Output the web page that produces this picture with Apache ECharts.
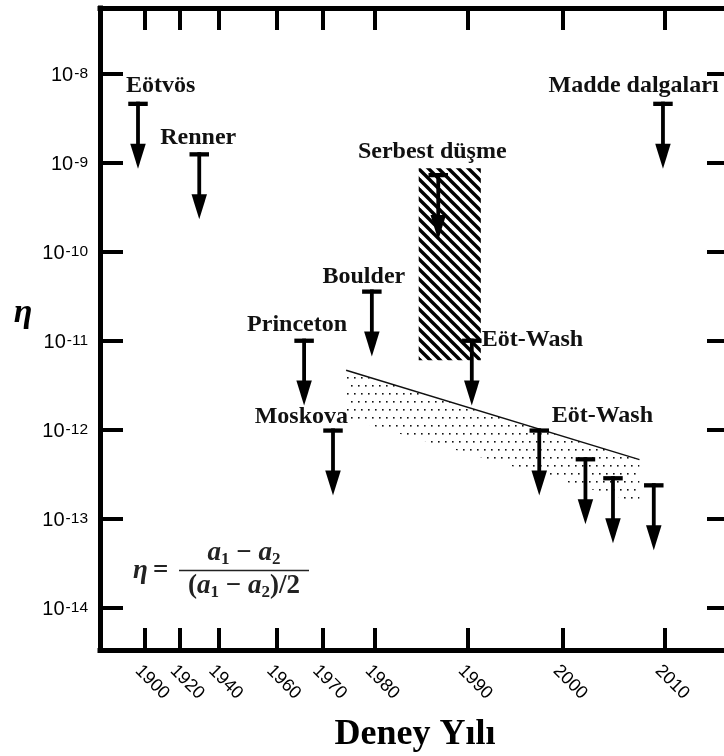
<!DOCTYPE html>
<html><head><meta charset="utf-8">
<script src="https://cdn.jsdelivr.net/npm/echarts@6/dist/echarts.min.js"></script>
<style>html,body{margin:0;padding:0;background:#fff}#c{width:724px;height:756px}</style>
</head><body><div id="c"></div>
<script>
// graduation of the (non-uniform) year axis: year labels and their stops in axis units
const axisYears = [1900, 1920, 1940, 1960, 1970, 1980, 1990, 2000, 2010];
const axisStops = [45, 80, 118.5, 176.5, 222.5, 275, 368, 463, 565];
const etaExponents = [-14, -13, -12, -11, -10, -9, -8];

// upper limits (arrows)
const arrowNames  = ['Eötvös', 'Renner', 'Princeton', 'Moskova', 'Boulder', 'Serbest düşme', 'Eöt-Wash', 'Eöt-Wash', '', '', '', 'Madde dalgaları'];
const arrowYears  = [1896, 1930, 1966, 1972, 1979.4, 1986.8, 1990.4, 1997.5, 2002.2, 2004.9, 2008.9, 2009.8];
const arrowLimits = [4.8e-9, 1.3e-9, 1.05e-11, 1.03e-12, 3.74e-11, 7.6e-10, 1.05e-11, 1.03e-12, 4.9e-13, 3.0e-13, 2.5e-13, 4.8e-9];

// dotted band (projected sensitivity)
const bandYears = [1974.5, 2007.5];
const bandUpper = [4.63e-12, 4.6e-13];
const bandLower = [1.34e-12, 1.49e-13];

// hatched free-fall region
const freeFallYears = [1984.7, 1991.35];
const freeFallRange = [8.57e-10, 6.0e-12];

// label placement relative to the top of each arrow (style)
const labelPlacement = [
  {align: 'left',   dx: -12,  dy: -8},
  {align: 'center', dx: -1,   dy: -7},
  {align: 'center', dx: -7,   dy: -6.6},
  {align: 'right',  dx: 15,   dy: -4.3},
  {align: 'center', dx: -8,   dy: -5.3},
  {align: 'center', dx: -6,   dy: -13.4},
  {align: 'left',   dx: 10,   dy: 8.4},
  {align: 'left',   dx: 12.4, dy: -5},
  null, null, null,
  {align: 'right',  dx: 55.6, dy: -8.4}
];
const LABEL_SHIFT = 7; // rotated year labels sit slightly left of their ticks

function yearToAxis(yr) {
  const n = axisYears.length;
  let i = 0;
  if (yr <= axisYears[0]) i = 0;
  else if (yr >= axisYears[n - 1]) i = n - 2;
  else { while (yr > axisYears[i + 1]) i++; }
  const t = (yr - axisYears[i]) / (axisYears[i + 1] - axisYears[i]);
  return axisStops[i] + t * (axisStops[i + 1] - axisStops[i]);
}
const labelStops = axisStops.map(s => s - LABEL_SHIFT);
function yearLabel(v) {
  const i = labelStops.findIndex(s => Math.abs(s - v) < 1e-6);
  return i >= 0 ? String(axisYears[i]) : '';
}
const lg = Math.log10;

function makeDots() {
  const c = document.createElement('canvas');
  c.width = 14; c.height = 16;
  const g = c.getContext('2d');
  g.fillStyle = '#111';
  [[1, 1], [8, 1], [4, 9], [11, 9]].forEach(p => g.fillRect(p[0], p[1], 1.6, 1.6));
  return c;
}
function makeStripes() {
  const c = document.createElement('canvas');
  c.width = 10; c.height = 10;
  const g = c.getContext('2d');
  g.strokeStyle = '#000'; g.lineWidth = 3.4;
  for (let k = -1; k <= 1; k++) {
    g.beginPath(); g.moveTo(k * 10 - 5, -5); g.lineTo(k * 10 + 15, 15); g.stroke();
  }
  return c;
}
const dotPattern = {image: makeDots(), repeat: 'repeat'};
const stripePattern = {image: makeStripes(), repeat: 'repeat'};

const LABEL_FONT = 'bold 24px "Liberation Serif", "Times New Roman", serif';

function renderArrow(params, api) {
  const i = api.value(2);
  const p = api.coord([api.value(0), api.value(1)]);
  const x = p[0], y = p[1];
  const L = 67, bw = 19.5, bh = 4.3, sw = 3.8, hw = 15.5, hh = 25;
  const children = [
    {type: 'rect', shape: {x: x - bw / 2, y: y, width: bw, height: bh}, style: {fill: '#000'}},
    {type: 'rect', shape: {x: x - sw / 2, y: y, width: sw, height: L - hh + 2}, style: {fill: '#000'}},
    {type: 'polygon', shape: {points: [[x - hw / 2, y + L - hh], [x + hw / 2, y + L - hh], [x, y + L]]}, style: {fill: '#000'}}
  ];
  const name = arrowNames[i], lp = labelPlacement[i];
  if (name && lp) {
    children.push({type: 'text', style: {text: name, x: x + lp.dx, y: y + lp.dy - 7.5,
      align: lp.align, verticalAlign: 'middle', font: LABEL_FONT, fill: '#111'}});
  }
  return {type: 'group', children};
}
function renderBand(params, api) {
  const a = api.coord([api.value(0), api.value(1)]);
  const b = api.coord([api.value(3), api.value(4)]);
  const c = api.coord([api.value(3), api.value(5)]);
  const d = api.coord([api.value(0), api.value(2)]);
  return {type: 'group', children: [
    {type: 'polygon', shape: {points: [a, b, c, d]}, style: {fill: dotPattern}},
    {type: 'line', shape: {x1: a[0], y1: a[1], x2: b[0], y2: b[1]}, style: {stroke: '#111', lineWidth: 1.5}}
  ]};
}
function renderRect(params, api) {
  const a = api.coord([api.value(0), api.value(2)]);
  const b = api.coord([api.value(1), api.value(3)]);
  return {type: 'rect', shape: {x: a[0], y: a[1], width: b[0] - a[0], height: b[1] - a[1]}, style: {fill: stripePattern}};
}

// formula built from measured pieces (main text + lowered subscripts)
const mctx = document.createElement('canvas').getContext('2d');
function tw(font, s) { mctx.font = font; return mctx.measureText(s).width; }
const F_I = 'italic bold 27px "Liberation Serif", serif';
const F_R = 'bold 27px "Liberation Serif", serif';
const F_S = 'bold 17px "Liberation Serif", serif';
function formulaLine(parts, cx, cy) {
  const total = parts.reduce((a, p) => a + tw(p[1], p[0]), 0);
  let x = cx - total / 2;
  const out = [];
  parts.forEach(p => {
    out.push({type: 'text', x: x, y: cy + p[2], silent: true,
      style: {text: p[0], font: p[1], align: 'left', verticalAlign: 'middle', fill: '#222'}});
    x += tw(p[1], p[0]);
  });
  return out;
}
const numParts = [['a', F_I, 0], ['1', F_S, 7], [' − ', F_R, 0], ['a', F_I, 0], ['2', F_S, 7]];
const denParts = [['(', F_R, 0], ['a', F_I, 0], ['1', F_S, 7], [' − ', F_R, 0], ['a', F_I, 0], ['2', F_S, 7], [')/2', F_R, 0]];
const formulaGraphics = [
  {type: 'text', x: 133, y: 571, silent: true, style: {text: 'η', font: F_I, align: 'left', verticalAlign: 'middle', fill: '#222'}},
  {type: 'text', x: 153, y: 571, silent: true, style: {text: '=', font: F_R, align: 'left', verticalAlign: 'middle', fill: '#222'}},
  ...formulaLine(numParts, 244, 553),
  {type: 'line', silent: true, shape: {x1: 179, y1: 570.5, x2: 309, y2: 570.5}, style: {stroke: '#222', lineWidth: 1.7}},
  ...formulaLine(denParts, 244, 586)
];

const yMin = -14.475, yMax = -7.267;
const axisLineStyle = {color: '#000', width: 5, cap: 'square'};
const tickStyle = {color: '#000', width: 4};
const SANS = '"Liberation Sans", Arial, sans-serif';

const chart = echarts.init(document.getElementById('c'));
chart.setOption({
  animation: false,
  backgroundColor: '#fff',
  grid: {left: 100, right: -6, top: 8, bottom: 106, containLabel: false, outerBoundsMode: 'none'},
  xAxis: [{
    type: 'value', position: 'bottom', min: 0, max: 630,
    axisLine: {show: true, onZero: false, lineStyle: axisLineStyle},
    axisTick: {show: true, inside: true, length: 22, customValues: axisStops, lineStyle: tickStyle},
    axisLabel: {show: true, customValues: labelStops, rotate: -45, margin: 18, formatter: yearLabel,
      color: '#000', fontFamily: SANS, fontSize: 18},
    splitLine: {show: false},
    name: 'Deney Yılı', nameLocation: 'middle', nameGap: 67,
    nameTextStyle: {fontFamily: '"Liberation Serif", "Times New Roman", serif', fontWeight: 'bold', fontSize: 36, color: '#000'}
  }, {
    type: 'value', position: 'top', min: 0, max: 630,
    axisLine: {show: true, onZero: false, lineStyle: axisLineStyle},
    axisTick: {show: true, inside: true, length: 22, customValues: axisStops, lineStyle: tickStyle},
    axisLabel: {show: false}, splitLine: {show: false}
  }],
  yAxis: [{
    type: 'value', position: 'left', min: yMin, max: yMax,
    axisLine: {show: true, onZero: false, lineStyle: axisLineStyle},
    axisTick: {show: true, inside: true, length: 23, customValues: etaExponents, lineStyle: tickStyle},
    axisLabel: {show: true, customValues: etaExponents, margin: 12, padding: [12, 0, 0, 0],
      formatter: v => '{b|10}{s|' + v + '}',
      rich: {
        b: {fontSize: 20, lineHeight: 28, verticalAlign: 'top', color: '#000', fontFamily: SANS},
        s: {fontSize: 15.5, lineHeight: 13, verticalAlign: 'top', color: '#000', fontFamily: SANS, padding: [0, 0, 0, 1]}
      }},
    splitLine: {show: false}
  }, {
    type: 'value', position: 'right', min: yMin, max: yMax,
    axisLine: {show: true, onZero: false, lineStyle: axisLineStyle},
    axisTick: {show: true, inside: true, length: 23, customValues: etaExponents, lineStyle: tickStyle},
    axisLabel: {show: false}, splitLine: {show: false}
  }],
  graphic: [
    {type: 'text', x: 23, y: 313, silent: true, style: {text: 'η', align: 'center', verticalAlign: 'middle',
      font: 'italic bold 34px "Liberation Serif", serif', fill: '#000'}},
    ...formulaGraphics
  ],
  series: [
    {type: 'custom', name: 'band', renderItem: renderBand, silent: true, z: 2,
      data: [[yearToAxis(bandYears[0]), lg(bandUpper[0]), lg(bandLower[0]), yearToAxis(bandYears[1]), lg(bandUpper[1]), lg(bandLower[1])]]},
    {type: 'custom', name: 'freefall', renderItem: renderRect, silent: true, z: 3,
      data: [[yearToAxis(freeFallYears[0]), yearToAxis(freeFallYears[1]), lg(freeFallRange[0]), lg(freeFallRange[1])]]},
    {type: 'custom', name: 'limits', renderItem: renderArrow, silent: true, z: 4,
      data: arrowYears.map((yr, i) => [yearToAxis(yr), lg(arrowLimits[i]), i])}
  ]
});
</script>
</body></html>
